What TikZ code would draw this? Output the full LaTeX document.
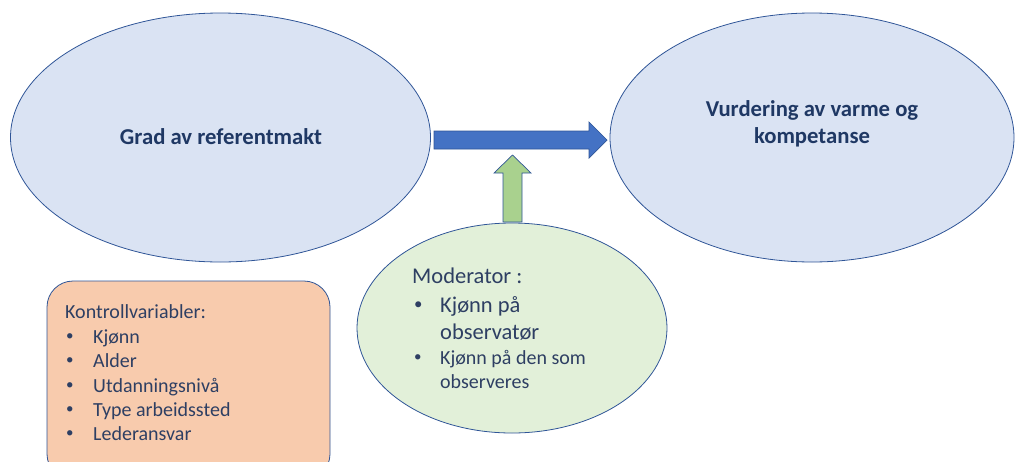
\documentclass[tikz,border=0pt]{standalone}
\usepackage{fontspec}
\setmainfont{Carlito}
\usetikzlibrary{shapes.geometric}
\definecolor{ellfill}{HTML}{DAE3F3}
\definecolor{edgeblue}{HTML}{2F5597}
\definecolor{arrowblue}{HTML}{4472C4}
\definecolor{arrowgreen}{HTML}{A9D18E}
\definecolor{modfill}{HTML}{E2F0D9}
\definecolor{ctrlfill}{HTML}{F8CBAD}
\definecolor{txt}{HTML}{1F3864}
\definecolor{txtb}{HTML}{2E3F63}
\tikzset{
  ell/.style={ellipse, draw=edgeblue, line width=0.8pt, inner sep=0pt},
  boldlbl/.style={font=\fontsize{22.7}{27}\selectfont\bfseries, text=txt, align=center, inner sep=0pt},
  biglbl/.style={font=\fontsize{22.5}{27}\selectfont, text=txtb, anchor=base west, inner sep=0pt},
  smalllbl/.style={font=\fontsize{20}{24.4}\selectfont, text=txtb, anchor=base west, inner sep=0pt},
  blockarrow/.style={draw=edgeblue, line width=0.7pt, line join=miter}
}
\newcommand{\bul}[1]{\makebox[#1][l]{\raisebox{0.12em}{\scalebox{0.75}{\textbullet}}}}
\begin{document}
\begin{tikzpicture}[x=1pt,y=-1pt]
\useasboundingbox (0,0) rectangle (1015,461);
% ellipses
\node[ell, fill=ellfill, minimum width=420pt, minimum height=249pt] (grad) at (220.5,137.5) {};
\node[ell, fill=ellfill, minimum width=404pt, minimum height=249pt] (vurd) at (812,137.5) {};
\node[boldlbl] (gradlbl) at (221,137) {Grad av referentmakt};
\node[boldlbl] (vurdlbl) at (812,124) {Vurdering av varme og\\kompetanse};
% blue arrow
\filldraw[blockarrow, fill=arrowblue] (434,131) -- (589,131) -- (589,122) -- (607,140) -- (589,158) -- (589,149) -- (434,149) -- cycle;
% moderator ellipse
\node[ell, fill=modfill, minimum width=310pt, minimum height=210pt] (mod) at (512,328) {};
% green arrow
\filldraw[blockarrow, fill=arrowgreen] (503,222) -- (503,173) -- (494,173) -- (512.5,155) -- (531,173) -- (522,173) -- (522,222) -- cycle;
\node[biglbl] (m0) at (412,283) {Moderator :};
\node[biglbl] (m1) at (414,312) {\bul{26pt}Kjønn på};
\node[biglbl] (m2) at (440,339) {observatør};
\node[smalllbl] (m3) at (414,364) {\bul{26pt}Kjønn på den som};
\node[smalllbl] (m4) at (440,388) {observeres};
% control box
\filldraw[draw=edgeblue, line width=0.8pt, fill=ctrlfill, rounded corners=26pt] (47,281) rectangle (330,480);
\node[smalllbl] (k0) at (65,318) {Kontrollvariabler:};
\node[smalllbl] (k1) at (66,343) {\bul{27pt}Kjønn};
\node[smalllbl] (k2) at (66,367) {\bul{27pt}Alder};
\node[smalllbl] (k3) at (66,392) {\bul{27pt}Utdanningsnivå};
\node[smalllbl] (k4) at (66,416) {\bul{27pt}Type arbeidssted};
\node[smalllbl] (k5) at (66,440) {\bul{27pt}Lederansvar};
\end{tikzpicture}
\end{document}
